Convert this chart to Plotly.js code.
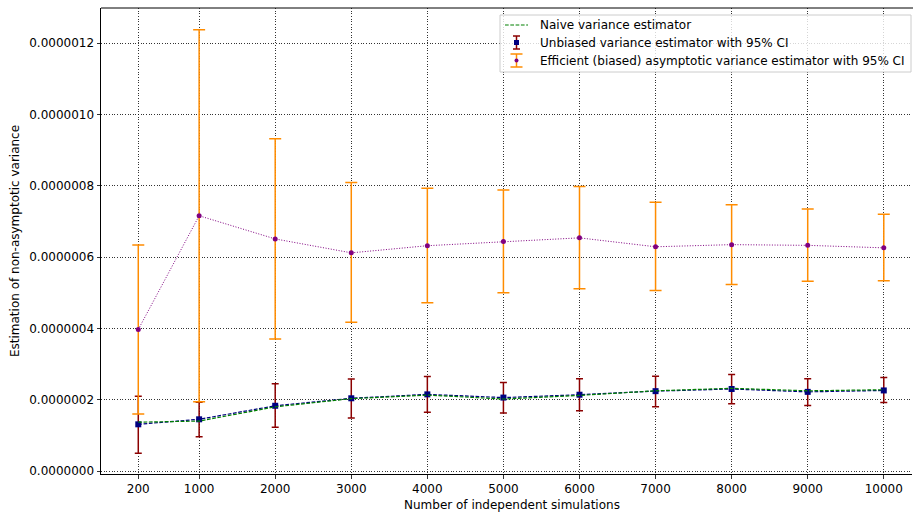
<!DOCTYPE html>
<html>
<head>
<meta charset="utf-8">
<script src="https://cdn.plot.ly/plotly-3.0.1.min.js"></script>
<style>html,body{margin:0;padding:0;background:#fff;}#chart{width:913px;height:515px;}</style>
</head>
<body>
<div id="chart"></div>
<script>
// ---- data ----
const simulations = [200, 1000, 2000, 3000, 4000, 5000, 6000, 7000, 8000, 9000, 10000];
const naiveVar = [1.37e-7, 1.40e-7, 1.80e-7, 2.03e-7, 2.13e-7, 2.02e-7, 2.12e-7, 2.25e-7, 2.32e-7, 2.25e-7, 2.28e-7];
const unbiasedVar = [1.31e-7, 1.45e-7, 1.83e-7, 2.04e-7, 2.15e-7, 2.06e-7, 2.14e-7, 2.24e-7, 2.30e-7, 2.22e-7, 2.26e-7];
const unbiasedHigh = [2.10e-7, 1.93e-7, 2.45e-7, 2.58e-7, 2.65e-7, 2.48e-7, 2.59e-7, 2.66e-7, 2.71e-7, 2.59e-7, 2.62e-7];
const unbiasedLow = [0.50e-7, 0.96e-7, 1.23e-7, 1.49e-7, 1.65e-7, 1.63e-7, 1.69e-7, 1.80e-7, 1.89e-7, 1.84e-7, 1.92e-7];
const efficientVar = [3.97e-7, 7.16e-7, 6.51e-7, 6.12e-7, 6.32e-7, 6.44e-7, 6.54e-7, 6.29e-7, 6.35e-7, 6.33e-7, 6.26e-7];
const efficientHigh = [6.34e-7, 12.38e-7, 9.32e-7, 8.09e-7, 7.93e-7, 7.88e-7, 7.98e-7, 7.54e-7, 7.47e-7, 7.35e-7, 7.20e-7];
const efficientLow = [1.60e-7, 1.94e-7, 3.70e-7, 4.17e-7, 4.72e-7, 5.00e-7, 5.11e-7, 5.06e-7, 5.23e-7, 5.32e-7, 5.34e-7];
const yTicks = [0, 2e-7, 4e-7, 6e-7, 8e-7, 10e-7, 12e-7];
const legendLabels = ["Naive variance estimator", "Unbiased variance estimator with 95% CI", "Efficient (biased) asymptotic variance estimator with 95% CI"];
const xTitle = 'Number of independent simulations';
const yTitle = 'Estimation of non-asymptotic variance';

const plus = (v, h) => v.map((x, i) => h[i] - x);
const minus = (v, l) => v.map((x, i) => x - l[i]);

const C = {green: '#008000', navy: '#000080', darkred: '#8b0000', orange: '#ff8c00', purple: '#800080'};

const traces = [
  {x: simulations, y: unbiasedVar, type: 'scatter', mode: 'lines+markers',
   line: {color: C.navy, width: 1.2, dash: '3.7px,1.6px'},
   marker: {symbol: 'square', size: 6, color: C.navy},
   error_y: {type: 'data', symmetric: false, array: plus(unbiasedVar, unbiasedHigh), arrayminus: minus(unbiasedVar, unbiasedLow), color: C.darkred, thickness: 1.5, width: 3.5},
   showlegend: false},
  {x: simulations, y: naiveVar, type: 'scatter', mode: 'lines',
   line: {color: C.green, width: 1.2, dash: '3.7px,1.6px'}, showlegend: false},
  {x: simulations, y: efficientVar, type: 'scatter', mode: 'lines+markers',
   line: {color: C.purple, width: 1, dash: '1px,1.65px'},
   marker: {symbol: 'circle', size: 5, color: C.purple},
   error_y: {type: 'data', symmetric: false, array: plus(efficientVar, efficientHigh), arrayminus: minus(efficientVar, efficientLow), color: C.orange, thickness: 1.5, width: 6},
   showlegend: false}
];

// plot area in pixels; the right side of the axes is cut off by the image edge, as in the reference
const W = 913, H = 515;
const L = 101, R = 912, T = 8, B = 474;
const px = x => (x - L) / (R - L);
const py = y => (B - y) / (B - T);

const shapes = [
  // top frame line
  {type: 'line', xref: 'paper', yref: 'paper', x0: 0, x1: px(913), y0: 1, y1: 1, line: {color: '#000', width: 1}, layer: 'above'},
  // legend box
  {type: 'rect', xref: 'paper', yref: 'paper', x0: px(500), x1: px(911), y0: py(72), y1: py(15),
   line: {color: '#cccccc', width: 1}, fillcolor: 'rgba(255,255,255,0.8)', layer: 'above'},
  // naive glyph
  {type: 'line', xref: 'paper', yref: 'paper', x0: px(505), x1: px(528), y0: py(25), y1: py(25),
   line: {color: C.green, width: 1.2, dash: '3.7px,1.6px'}, layer: 'above'},
  // unbiased glyph
  {type: 'line', xref: 'paper', yref: 'paper', x0: px(516.5), x1: px(516.5), y0: py(36), y1: py(49), line: {color: C.darkred, width: 1.5}, layer: 'above'},
  {type: 'line', xref: 'paper', yref: 'paper', x0: px(513), x1: px(520), y0: py(36), y1: py(36), line: {color: C.darkred, width: 1.5}, layer: 'above'},
  {type: 'line', xref: 'paper', yref: 'paper', x0: px(513), x1: px(520), y0: py(49), y1: py(49), line: {color: C.darkred, width: 1.5}, layer: 'above'},
  {type: 'rect', xref: 'paper', yref: 'paper', x0: px(514), x1: px(519), y0: py(45), y1: py(40), fillcolor: C.navy, line: {width: 0}, layer: 'above'},
  // efficient glyph
  {type: 'line', xref: 'paper', yref: 'paper', x0: px(516.5), x1: px(516.5), y0: py(54), y1: py(67), line: {color: C.orange, width: 1.5}, layer: 'above'},
  {type: 'line', xref: 'paper', yref: 'paper', x0: px(510.5), x1: px(522.5), y0: py(54), y1: py(54), line: {color: C.orange, width: 1.5}, layer: 'above'},
  {type: 'line', xref: 'paper', yref: 'paper', x0: px(510.5), x1: px(522.5), y0: py(67), y1: py(67), line: {color: C.orange, width: 1.5}, layer: 'above'},
  {type: 'circle', xref: 'paper', yref: 'paper', x0: px(514.5), x1: px(518.5), y0: py(62.5), y1: py(58.5), fillcolor: C.purple, line: {width: 0}, layer: 'above'}
];

const rowsY = [25, 43, 61];
const annotations = legendLabels.map((t, i) => ({
  text: t, xref: 'paper', yref: 'paper', x: px(538), y: py(rowsY[i]), xanchor: 'left', yanchor: 'middle',
  showarrow: false, font: {family: 'DejaVu Sans', size: 12, color: '#000'}
}));
annotations.push({
  text: xTitle, xref: 'paper', yref: 'paper', x: px(511.5), y: py(505), xanchor: 'center', yanchor: 'middle',
  showarrow: false, font: {family: 'DejaVu Sans', size: 12, color: '#000'}
});

const layout = {
  width: W, height: H,
  margin: {l: L, r: W - R, t: T, b: H - B, pad: 0},
  paper_bgcolor: '#fff', plot_bgcolor: '#fff',
  font: {family: 'DejaVu Sans', size: 12, color: '#000'},
  showlegend: false,
  xaxis: {
    range: [-290, 10371], tickvals: simulations, ticktext: simulations.map(String),
    showline: true, mirror: false, linecolor: '#000', linewidth: 1,
    ticks: 'outside', ticklen: 3.5, tickcolor: '#000', tickwidth: 0.8,
    showgrid: true, gridcolor: '#000', gridwidth: 0.8, griddash: '1px,1.65px',
    zeroline: false, tickfont: {size: 12}
  },
  yaxis: {
    range: [-0.084e-7, 12.988e-7], tickvals: yTicks, tickformat: '.7f',
    showline: true, mirror: false, linecolor: '#000', linewidth: 1,
    ticks: 'outside', ticklen: 3.5, tickcolor: '#000', tickwidth: 0.8,
    showgrid: true, gridcolor: '#000', gridwidth: 0.8, griddash: '1px,1.65px',
    zeroline: false, tickfont: {size: 12},
    title: {text: yTitle, font: {size: 12}, standoff: 6}
  },
  shapes: shapes, annotations: annotations
};

Plotly.newPlot('chart', traces, layout, {displayModeBar: false, staticPlot: true});
</script>
</body>
</html>
